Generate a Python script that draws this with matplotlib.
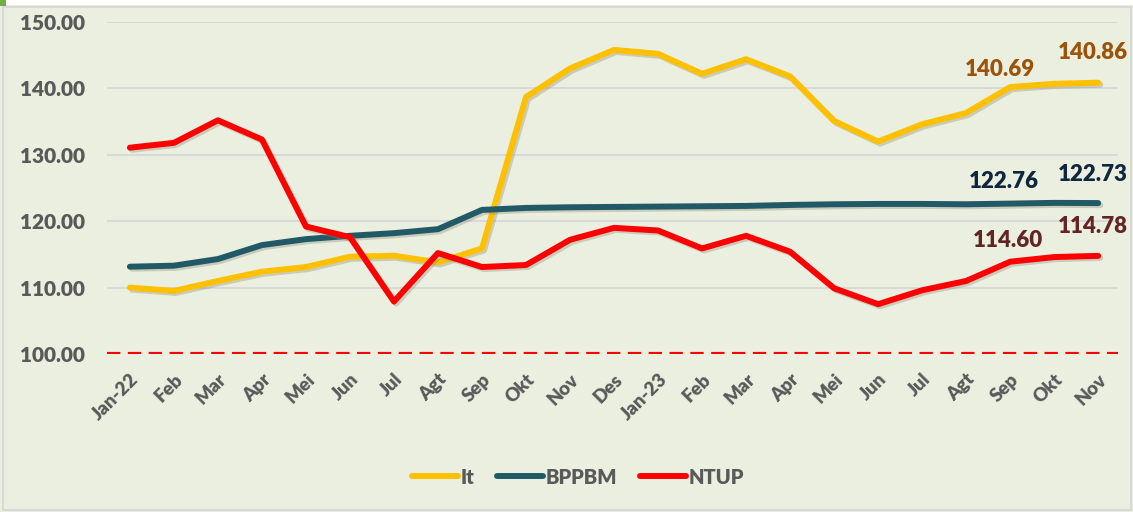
import matplotlib
matplotlib.use("Agg")
import matplotlib.pyplot as plt
import matplotlib.patheffects as pe
from matplotlib.patches import Rectangle

plt.rcParams['font.family'] = ['Lato', 'DejaVu Sans']
plt.rcParams['font.weight'] = 'heavy'

months = ["Jan-22", "Feb", "Mar", "Apr", "Mei", "Jun", "Jul", "Agt", "Sep", "Okt", "Nov", "Des",
          "Jan-23", "Feb", "Mar", "Apr", "Mei", "Jun", "Jul", "Agt", "Sep", "Okt", "Nov"]

it_vals = [110.0, 109.5, 111.0, 112.4, 113.1, 114.65, 114.8, 113.8, 115.9, 138.7, 143.0, 145.8,
           145.2, 142.2, 144.4, 141.8, 135.1, 132.0, 134.6, 136.3, 140.2, 140.69, 140.86]
bppbm_vals = [113.15, 113.3, 114.3, 116.4, 117.3, 117.8, 118.2, 118.8, 121.7, 122.0, 122.1, 122.15,
              122.2, 122.25, 122.3, 122.45, 122.55, 122.6, 122.6, 122.55, 122.65, 122.76, 122.73]
ntup_vals = [131.07, 131.8, 135.2, 132.3, 119.2, 117.6, 107.9, 115.2, 113.1, 113.4, 117.2, 119.0,
             118.6, 115.9, 117.8, 115.4, 109.9, 107.5, 109.6, 111.0, 113.9, 114.60, 114.78]

y_ticks = [100, 110, 120, 130, 140, 150]
baseline = 100

bg = "#ebefdf"
txt = "#595959"
W = "heavy"

fig = plt.figure(figsize=(11.33, 5.12), dpi=100)
fig.patch.set_facecolor(bg)

fig.patches.append(Rectangle((0, 1 - 5/512), 1, 5/512, transform=fig.transFigure,
                             facecolor="white", edgecolor="none", zorder=0))
fig.patches.append(Rectangle((3/1133, 2/512), 1128/1133, 503/512, transform=fig.transFigure,
                             facecolor="none", edgecolor="#d9d9d9", linewidth=1.5, zorder=1))
fig.patches.append(Rectangle((0, 1 - 6/512), 6/1133, 6/512, transform=fig.transFigure,
                             facecolor="#70ad47", edgecolor="none", zorder=2))

ax = fig.add_axes([107/1133, 1 - 354/512, (1118 - 107)/1133, (354 - 22)/512])
ax.set_facecolor("none")
x = list(range(len(months)))

ax.set_xlim(-0.52, 22.45)
ax.set_ylim(100, 150)
ax.set_yticks(y_ticks)
ax.set_yticklabels([f"{v:.2f}" for v in y_ticks])
for v in y_ticks[1:]:
    ax.axhline(v, color="#d9d9d9", linewidth=1.5, zorder=1)
ax.axhline(baseline, color="#ff0000", linewidth=3, linestyle=(0, (3.2, 1.8)), zorder=2)

shadow = [pe.SimpleLineShadow(offset=(1.5, -1.5), shadow_color="#8a8a7a", alpha=0.35), pe.Normal()]
common = dict(linewidth=4.3, solid_capstyle="round", solid_joinstyle="round",
              path_effects=shadow, clip_on=False)
l1, = ax.plot(x, it_vals, color="#ffc000", label="It", zorder=3, **common)
l2, = ax.plot(x, bppbm_vals, color="#215967", label="BPPBM", zorder=4, **common)
l3, = ax.plot(x, ntup_vals, color="#ff0000", label="NTUP", zorder=5, **common)

ax.set_xticks(x)
ax.set_xticklabels(months, rotation=45, ha="right", va="top", rotation_mode="anchor",
                   fontsize=13.5, color=txt, fontweight=W)
ax.tick_params(axis="x", length=0, pad=12)
ax.tick_params(axis="y", length=0, pad=16, labelsize=15, labelcolor=txt)
for t in ax.get_yticklabels():
    t.set_fontweight(W)
for s in ax.spines.values():
    s.set_visible(False)

lab_style = dict(fontsize=16, fontweight=W, ha="center", va="center",
                 textcoords="offset pixels", annotation_clip=False)
ax.annotate(f"{it_vals[21]:.2f}", (21, it_vals[21]), xytext=(-54, 14), color="#9c5208", **lab_style)
ax.annotate(f"{it_vals[22]:.2f}", (22, it_vals[22]), xytext=(-5, 30), color="#9c5208", **lab_style)
ax.annotate(f"{bppbm_vals[21]:.2f}", (21, bppbm_vals[21]), xytext=(-50, 21), color="#10253f", **lab_style)
ax.annotate(f"{bppbm_vals[22]:.2f}", (22, bppbm_vals[22]), xytext=(-5, 29), color="#10253f", **lab_style)
ax.annotate(f"{ntup_vals[21]:.2f}", (21, ntup_vals[21]), xytext=(-46, 17), color="#632523", **lab_style)
ax.annotate(f"{ntup_vals[22]:.2f}", (22, ntup_vals[22]), xytext=(-5, 29), color="#632523", **lab_style)

leg = fig.legend(handles=[l1, l2, l3], loc="center", bbox_to_anchor=(578/1133, 1 - 477/512),
                 ncol=3, frameon=False, fontsize=14.5, handlelength=2.3, handletextpad=0.15,
                 columnspacing=1.1)
for t in leg.get_texts():
    t.set_color(txt)
    t.set_fontweight(W)
for h in leg.legend_handles:
    h.set_path_effects([])
    h.set_solid_capstyle("round")

fig.savefig("out.png", dpi=100, facecolor=fig.get_facecolor())
